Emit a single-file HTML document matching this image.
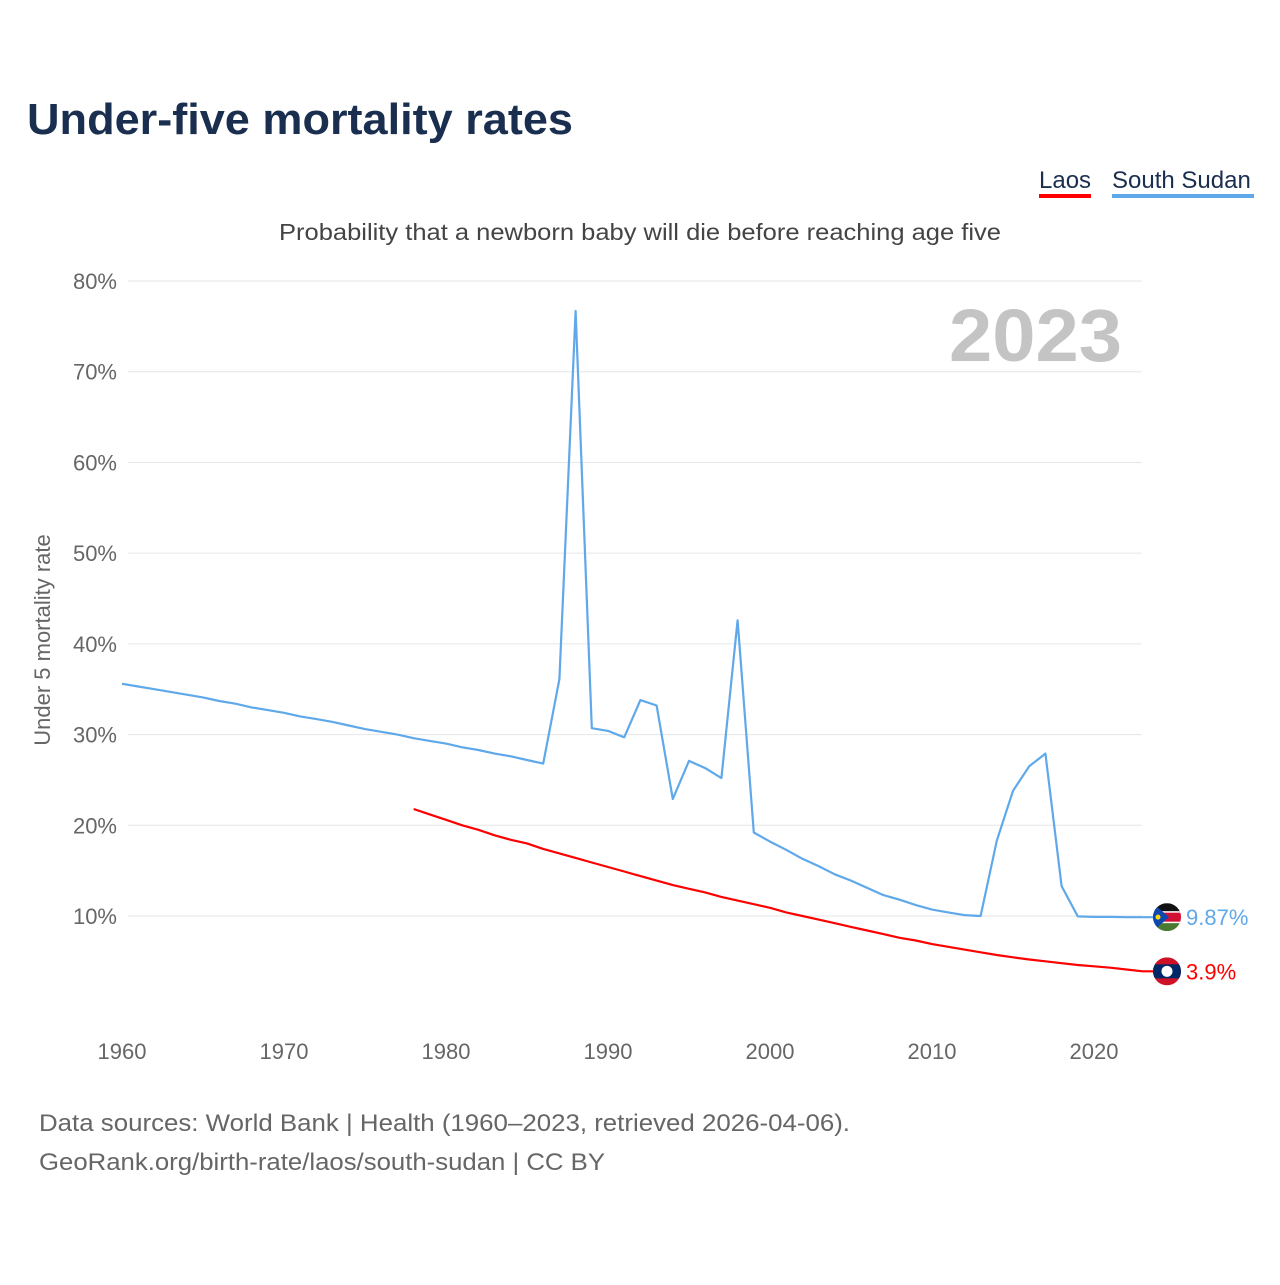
<!DOCTYPE html>
<html><head><meta charset="utf-8"><style>
body{margin:0;background:#fff;font-family:"Liberation Sans",sans-serif;}
svg text{font-family:"Liberation Sans",sans-serif;}
</style></head><body>
<svg id="chart" width="1280" height="1280" xmlns="http://www.w3.org/2000/svg">
<text x="27" y="134" font-size="44" font-weight="bold" fill="#1a2e4f" textLength="546" lengthAdjust="spacingAndGlyphs">Under-five mortality rates</text>
<g>
<text x="1039" y="188" font-size="24" fill="#1a2e4f">Laos</text>
<rect x="1039" y="194" width="52" height="4" fill="#f00"/>
<text x="1112" y="188" font-size="24" fill="#1a2e4f">South Sudan</text>
<rect x="1112" y="194" width="142" height="4" fill="#5fa8ea"/>
</g>
<text x="279" y="240" font-size="23" fill="#444" textLength="722" lengthAdjust="spacingAndGlyphs">Probability that a newborn baby will die before reaching age five</text>
<text x="949" y="361" font-size="74" font-weight="bold" fill="#c4c4c4" textLength="173" lengthAdjust="spacingAndGlyphs">2023</text>
<text transform="translate(50,640) rotate(-90)" font-size="22" fill="#666" text-anchor="middle">Under 5 mortality rate</text>
<g id="grid"></g><g id="series"></g>
<text x="39" y="1131" font-size="24" fill="#666" textLength="811" lengthAdjust="spacingAndGlyphs">Data sources: World Bank | Health (1960–2023, retrieved 2026-04-06).</text>
<text x="39" y="1170" font-size="24" fill="#666" textLength="566" lengthAdjust="spacingAndGlyphs">GeoRank.org/birth-rate/laos/south-sudan | CC BY</text>
</svg>
<script>
const yTicks=[10,20,30,40,50,60,70,80];
const xTicks=[1960,1970,1980,1990,2000,2010,2020];
const ssudanYears=[];for(let y=1960;y<=2023;y++)ssudanYears.push(y);
const ssudanValues=[35.6,35.3,35.0,34.7,34.4,34.1,33.7,33.4,33.0,32.7,32.4,32.0,31.7,31.4,31.0,30.6,30.3,30.0,29.6,29.3,29.0,28.6,28.3,27.9,27.6,27.2,26.8,36.1,76.7,30.7,30.4,29.7,33.8,33.2,22.9,27.1,26.3,25.2,42.6,19.2,18.2,17.3,16.3,15.5,14.6,13.9,13.1,12.3,11.8,11.2,10.7,10.4,10.1,10.0,18.3,23.8,26.5,27.9,13.3,9.95,9.9,9.9,9.87,9.87];
const laosYears=[];for(let y=1978;y<=2023;y++)laosYears.push(y);
const laosValues=[21.8,21.2,20.6,20.0,19.5,18.9,18.4,18.0,17.4,16.9,16.4,15.9,15.4,14.9,14.4,13.9,13.4,13.0,12.6,12.1,11.7,11.3,10.9,10.4,10.0,9.6,9.2,8.8,8.4,8.0,7.6,7.3,6.9,6.6,6.3,6.0,5.7,5.45,5.2,5.0,4.8,4.6,4.45,4.3,4.1,3.9];
const ns="http://www.w3.org/2000/svg";
const X=y=>122+(y-1960)*16.2;
const Y=v=>1006.7-v*9.071;
function mk(t,a,p){const e=document.createElementNS(ns,t);for(const k in a)e.setAttribute(k,a[k]);p.appendChild(e);return e;}
const g=document.getElementById('grid'),s=document.getElementById('series');
yTicks.forEach(v=>{
 const l=mk('line',{x1:128,x2:1142,y1:Y(v),y2:Y(v),stroke:'#e6e6e6','stroke-width':1},g);
 
 
 const t=mk('text',{x:117,y:Y(v)+8,'font-size':22,fill:'#666','text-anchor':'end'},g);t.textContent=v+'%';
 
 
});
xTicks.forEach(v=>{
 const t=mk('text',{x:X(v),y:1059,'font-size':22,fill:'#666','text-anchor':'middle'},g);t.textContent=v;
 
 
});
function line(years,vals,color,name){
 const d=years.map((y,i)=>(i?'L':'M')+X(y).toFixed(1)+','+Y(vals[i]).toFixed(1)).join('')+'L'+(X(2023)+14)+','+Y(vals[vals.length-1]).toFixed(1);
 const p=mk('path',{d:d,fill:'none',stroke:color,'stroke-width':2.2,'stroke-linejoin':'round'},s);
 
 
}
line(ssudanYears,ssudanValues,'#5fa8ea','south-sudan');
line(laosYears,laosValues,'#f00','laos');
const ssY=Y(ssudanValues[ssudanValues.length-1]),lY=Y(laosValues[laosValues.length-1]),fx=1167;
const defs=mk('defs',{},s);
const c1=mk('clipPath',{id:'c1'},defs);mk('circle',{cx:fx,cy:ssY,r:14},c1);
const c2=mk('clipPath',{id:'c2'},defs);mk('circle',{cx:fx,cy:lY,r:14},c2);
const f1=mk('g',{'clip-path':'url(#c1)'},s);


mk('rect',{x:fx-14,y:ssY-14,width:28,height:9,fill:'#111'},f1);
mk('rect',{x:fx-14,y:ssY-5,width:28,height:10,fill:'#d21034'},f1);
mk('rect',{x:fx-14,y:ssY-6,width:28,height:1.5,fill:'#fff'},f1);
mk('rect',{x:fx-14,y:ssY+4.5,width:28,height:1.5,fill:'#fff'},f1);
mk('rect',{x:fx-14,y:ssY+6,width:28,height:8,fill:'#4a7a32'},f1);
mk('polygon',{points:`${fx-14},${ssY-14} ${fx+2},${ssY} ${fx-14},${ssY+14}`,fill:'#0f47af'},f1);
mk('circle',{cx:fx-9,cy:ssY,r:2.5,fill:'#fcdd09'},f1);
const f2=mk('g',{'clip-path':'url(#c2)'},s);


mk('rect',{x:fx-14,y:lY-14,width:28,height:28,fill:'#ce1126'},f2);
mk('rect',{x:fx-14,y:lY-7,width:28,height:14,fill:'#002868'},f2);
mk('circle',{cx:fx,cy:lY,r:5.5,fill:'#fff'},f2);
const t1=mk('text',{x:1186,y:ssY+8,'font-size':22,fill:'#5fa8ea'},s);t1.textContent=ssudanValues[ssudanValues.length-1]+'%';


const t2=mk('text',{x:1186,y:lY+8,'font-size':22,fill:'#f00'},s);t2.textContent=laosValues[laosValues.length-1]+'%';


</script>
</body></html>
